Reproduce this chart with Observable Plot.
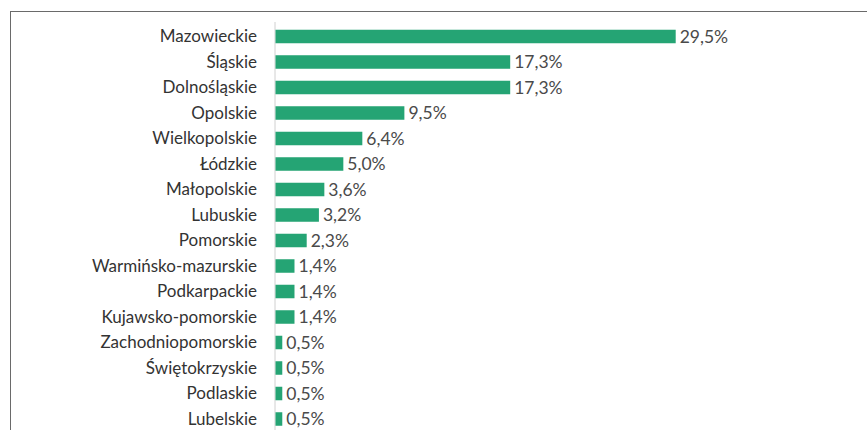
<!DOCTYPE html>
<html>
<head>
<meta charset="utf-8">
<script src="https://cdn.jsdelivr.net/npm/d3@7"></script>
<script src="https://cdn.jsdelivr.net/npm/@observablehq/plot@0.6"></script>
<style>
  html, body { margin: 0; padding: 0; background: #fff; overflow: hidden; }
  #wrap { position: relative; width: 867px; height: 430px; }
  #frame { position: absolute; left: 9.5px; top: 11px; width: 870px; height: 430px;
           border-top: 1.5px solid #6a6a6a; border-left: 1.5px solid #6a6a6a; box-sizing: border-box; pointer-events: none; }
  #chart { position: absolute; left: 0; top: 0; }
</style>
</head>
<body>
<div id="wrap"><div id="frame"></div><div id="chart"></div></div>
<script>
const regions = ["Mazowieckie", "Śląskie", "Dolnośląskie", "Opolskie", "Wielkopolskie", "Łódzkie",
  "Małopolskie", "Lubuskie", "Pomorskie", "Warmińsko-mazurskie", "Podkarpackie", "Kujawsko-pomorskie",
  "Zachodniopomorskie", "Świętokrzyskie", "Podlaskie", "Lubelskie"];
const shares = [29.5, 17.3, 17.3, 9.5, 6.4, 5.0, 3.6, 3.2, 2.3, 1.4, 1.4, 1.4, 0.5, 0.5, 0.5, 0.5];

const data = regions.map((r, i) => ({region: r, share: shares[i]}));
const fmt = v => d3.format(".1f")(v).replace(".", ",") + "%";

const chart = Plot.plot({
  width: 867,
  height: 430,
  marginLeft: 275.5,
  marginRight: 191.3,
  marginTop: 22,
  marginBottom: 0,
  style: {fontFamily: "Lato, sans-serif", fontSize: "17px", color: "#333", background: "transparent"},
  x: {domain: [0, 29.5], axis: null},
  y: {domain: regions, range: [22, 433.5], padding: 0.137, round: false, label: null},
  marks: [
    Plot.axisY({tickSize: 0, tickPadding: 19, label: null, fontSize: 17}),
    Plot.ruleX([0], {stroke: "#d0d0d0", strokeWidth: 1, dx: -1}),
    Plot.barX(data, {x: "share", y: "region", fill: "#25a474", insetTop: 4.25, insetBottom: 4.25}),
    Plot.text(data, {x: "share", y: "region", text: d => fmt(d.share), textAnchor: "start", dx: 3.5, fill: "#4a4a4a", fontSize: 17.5})
  ]
});
document.getElementById("chart").appendChild(chart);
</script>
</body>
</html>
